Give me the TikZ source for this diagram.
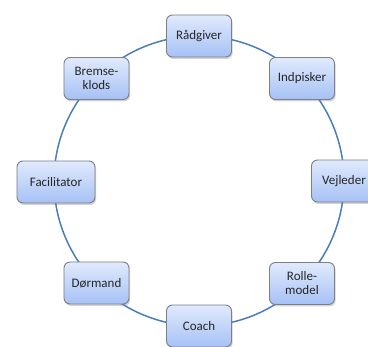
\documentclass[tikz,border=0pt]{standalone}
\usepackage{fontspec}
\setmainfont{Carlito}
\usetikzlibrary{shadows}
\definecolor{ringblue}{HTML}{4A7EBB}
\definecolor{boxtop}{HTML}{E1EAFC}
\definecolor{boxbot}{HTML}{A6C1F5}
\definecolor{boxline}{HTML}{7A7F88}
\tikzset{
  rolebox/.style={draw=boxline, line width=0.9pt, rounded corners=6pt,
    top color=boxtop, bottom color=boxbot, minimum width=65pt, minimum height=42pt,
    align=center, font=\fontsize{13}{14}\selectfont, text=black!85,
    drop shadow={opacity=0.35, shadow xshift=1.2pt, shadow yshift=-2pt}},
  ring/.style={draw=ringblue, line width=1.5pt}
}
\begin{document}
\begin{tikzpicture}[x=1pt,y=-1pt]
\useasboundingbox (0,0) rectangle (368,347);
\coordinate (c) at (199,181);
\draw[ring] (c) circle (145pt);
\node[rolebox] (raad) at (199,36) {Rådgiver};
\node[rolebox] (indp) at (302,78.5) {Indpisker};
\node[rolebox] (vejl) at (344,181) {Vejleder};
\node[rolebox] (rolle) at (302,283.5) {Rolle-\\model};
\node[rolebox] (coach) at (199,326) {Coach};
\node[rolebox] (doer) at (96.5,283) {Dørmand};
\node[rolebox, minimum width=78pt] (fac) at (56,182) {Facilitator};
\node[rolebox] (brem) at (96.5,78.5) {Bremse-\\klods};
\end{tikzpicture}
\end{document}
